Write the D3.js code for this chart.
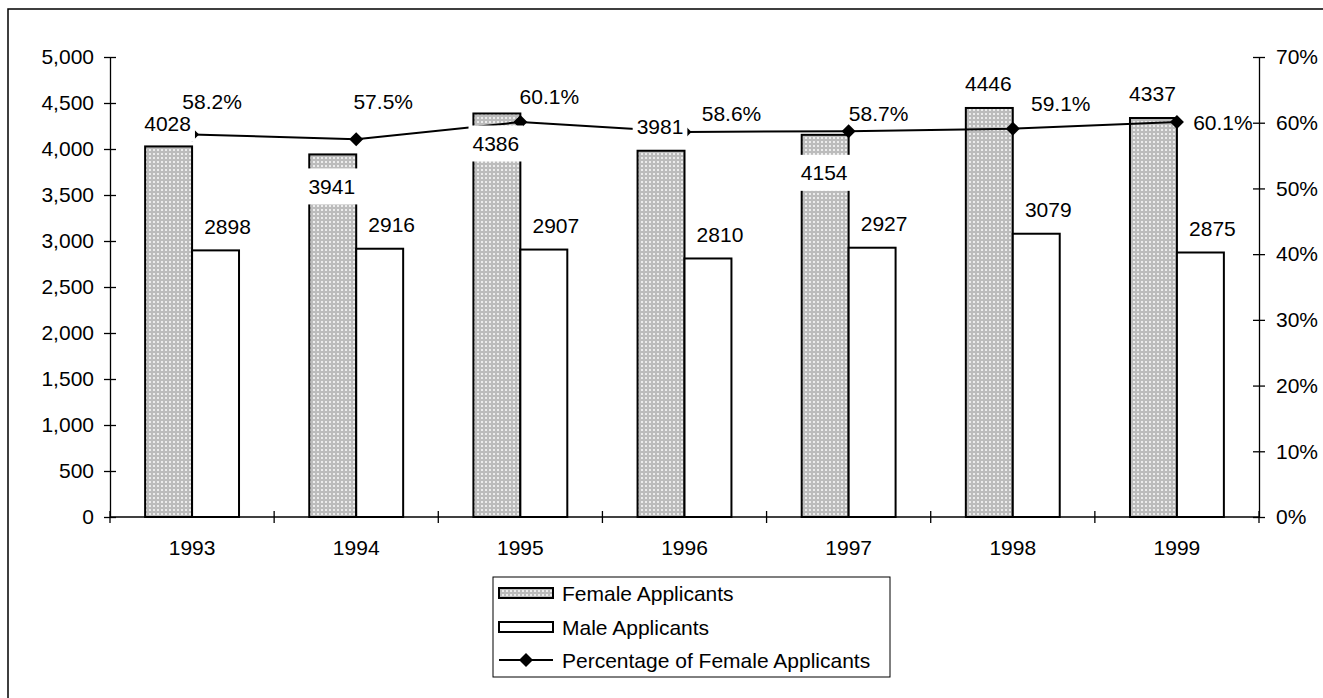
<!DOCTYPE html>
<html>
<head>
<meta charset="utf-8">
<title>Applicants 1993-1999</title>
<script src="https://cdn.jsdelivr.net/npm/d3@7"></script>
<style>
  body { margin: 0; background: #fff; }
  svg text { font-family: "Liberation Sans", Arial, sans-serif; font-size: 21px; fill: #000; }
</style>
</head>
<body>
<div id="chart"></div>
<script>
// data
var years = ["1993", "1994", "1995", "1996", "1997", "1998", "1999"];
var female = [4028, 3941, 4386, 3981, 4154, 4446, 4337];
var male = [2898, 2916, 2907, 2810, 2927, 3079, 2875];
var pctFemale = [0.582, 0.575, 0.601, 0.586, 0.587, 0.591, 0.601];
var leftTicks = [0, 500, 1000, 1500, 2000, 2500, 3000, 3500, 4000, 4500, 5000];
var rightTicks = [0, 0.1, 0.2, 0.3, 0.4, 0.5, 0.6, 0.7];
var legendLabels = ["Female Applicants", "Male Applicants", "Percentage of Female Applicants"];

// hand-placed data label nudges (px), like the dragged labels in the original
var femaleLabelDy = [-23, 32, 30, -24, 38, -25, -25];
var pctLabelDx = [20, 27, 29, 47, 30, 48, 46];
var pctLabelDy = [-33, -38, -26, -18, -18, -25, 0];

var W = 1323, H = 698;
var plot = { left: 110, right: 1259, top: 57, bottom: 517 };

var svg = d3.select("#chart").append("svg")
  .attr("width", W).attr("height", H);

// dotted fill for the female bars
var defs = svg.append("defs");
var pat = defs.append("pattern")
  .attr("id", "dots")
  .attr("patternUnits", "userSpaceOnUse")
  .attr("width", 4).attr("height", 4);
pat.append("rect").attr("width", 4).attr("height", 4).attr("fill", "#bcbcbc");
pat.append("rect").attr("x", 1).attr("y", 1).attr("width", 2).attr("height", 2).attr("fill", "#ececec");

// outer chart border (runs off the right and bottom of the window)
svg.append("rect")
  .attr("x", 8).attr("y", 9)
  .attr("width", W + 20).attr("height", H + 20)
  .attr("fill", "none").attr("stroke", "#000").attr("stroke-width", 1.5);

var x = d3.scaleBand().domain(years).range([plot.left, plot.right]).padding(0);
var y = d3.scaleLinear().domain([0, 5000]).range([plot.bottom, plot.top]);
var yPct = d3.scaleLinear().domain([0, 0.7]).range([plot.bottom, plot.top]);
var barW = x.bandwidth() * 0.286;
var cx = function(i) { return x(years[i]) + x.bandwidth() / 2; };

// bars
var g = svg.append("g");
g.selectAll(".fbar").data(female).enter().append("rect")
  .attr("class", "fbar")
  .attr("x", function(d, i) { return cx(i) - barW; })
  .attr("y", function(d) { return y(d); })
  .attr("width", barW)
  .attr("height", function(d) { return y(0) - y(d); })
  .attr("fill", "url(#dots)")
  .attr("stroke", "#000").attr("stroke-width", 2);

g.selectAll(".mbar").data(male).enter().append("rect")
  .attr("class", "mbar")
  .attr("x", function(d, i) { return cx(i); })
  .attr("y", function(d) { return y(d); })
  .attr("width", barW)
  .attr("height", function(d) { return y(0) - y(d); })
  .attr("fill", "#fff")
  .attr("stroke", "#000").attr("stroke-width", 2);

// axes
var axL = svg.append("g").attr("transform", "translate(" + plot.left + ",0)")
  .call(d3.axisLeft(y).tickValues(leftTicks).tickFormat(d3.format(",")).tickSizeInner(6).tickSizeOuter(0).tickPadding(10));
var axR = svg.append("g").attr("transform", "translate(" + plot.right + ",0)")
  .call(d3.axisRight(yPct).tickValues(rightTicks).tickFormat(d3.format(".0%")).tickSizeInner(6).tickSizeOuter(0).tickPadding(11));
var axB = svg.append("g").attr("transform", "translate(0," + plot.bottom + ")")
  .call(d3.axisBottom(x).tickSize(0).tickPadding(23));
[axL, axR].forEach(function(a) {
  a.selectAll(".tick line").attr("x1", -6).attr("x2", 6);
});
[axL, axR, axB].forEach(function(a) {
  a.selectAll("path, line").attr("stroke", "#000").attr("stroke-width", 1.3);
  a.selectAll("text").style("font-size", "21px").attr("fill", "#000");
});
axB.select(".domain").attr("d", "M" + plot.left + ",0H" + plot.right);
axB.selectAll(".cut").data(years.slice(1).concat(["end"])).enter().append("line")
  .attr("class", "cut")
  .attr("x1", function(d, i) { return i < years.length - 1 ? x(d) : plot.right; })
  .attr("x2", function(d, i) { return i < years.length - 1 ? x(d) : plot.right; })
  .attr("y1", -6).attr("y2", 6)
  .attr("stroke", "#000").attr("stroke-width", 1.3);
axB.append("line").attr("x1", plot.left).attr("x2", plot.left).attr("y1", -6).attr("y2", 6)
  .attr("stroke", "#000").attr("stroke-width", 1.3);

// percentage line
var diamond = function(s) { return "M0," + (-s) + "L" + s + ",0L0," + s + "L" + (-s) + ",0Z"; };
svg.append("path")
  .datum(pctFemale)
  .attr("fill", "none").attr("stroke", "#000").attr("stroke-width", 2)
  .attr("d", d3.line().x(function(d, i) { return cx(i); }).y(function(d) { return yPct(d); }));
svg.selectAll(".mark").data(pctFemale).enter().append("path")
  .attr("class", "mark")
  .attr("transform", function(d, i) { return "translate(" + cx(i) + "," + yPct(d) + ")"; })
  .attr("d", diamond(7))
  .attr("fill", "#000");

// data labels; the bar labels sit on white boxes
var labels = [];
female.forEach(function(v, i) {
  labels.push({ t: String(v), x: cx(i) - barW / 2 - 1, y: y(v) + femaleLabelDy[i], box: true });
});
male.forEach(function(v, i) {
  labels.push({ t: String(v), x: cx(i) + barW / 2 + 12, y: y(v) - 24, box: true });
});
pctFemale.forEach(function(v, i) {
  labels.push({ t: d3.format(".1%")(v), x: cx(i) + pctLabelDx[i], y: yPct(v) + pctLabelDy[i], box: false });
});
var lg = svg.append("g");
labels.forEach(function(l) {
  var box = l.box ? lg.append("rect").attr("fill", "#fff") : null;
  var t = lg.append("text")
    .attr("x", l.x).attr("y", l.y)
    .attr("text-anchor", "middle")
    .attr("dy", "0.36em")
    .text(l.t);
  if (box) {
    var w = t.node().getComputedTextLength();
    box.attr("x", l.x - w / 2 - 4).attr("y", l.y - 18).attr("width", w + 8).attr("height", 36);
    t.raise();
  }
});

// legend
var leg = svg.append("g").attr("transform", "translate(493,577)");
leg.append("rect").attr("width", 397).attr("height", 100)
  .attr("fill", "#fff").attr("stroke", "#000").attr("stroke-width", 1);
var rowY = [16, 50, 83];
leg.append("rect").attr("x", 6).attr("y", rowY[0] - 5).attr("width", 54).attr("height", 10)
  .attr("fill", "url(#dots)").attr("stroke", "#000").attr("stroke-width", 2);
leg.append("rect").attr("x", 6).attr("y", rowY[1] - 5).attr("width", 54).attr("height", 10)
  .attr("fill", "#fff").attr("stroke", "#000").attr("stroke-width", 2);
leg.append("line").attr("x1", 6).attr("x2", 60).attr("y1", rowY[2]).attr("y2", rowY[2])
  .attr("stroke", "#000").attr("stroke-width", 2);
leg.append("path").attr("transform", "translate(33," + rowY[2] + ")").attr("d", diamond(7)).attr("fill", "#000");
leg.selectAll(".lt").data(legendLabels).enter().append("text")
  .attr("class", "lt")
  .attr("x", 69)
  .attr("y", function(d, i) { return rowY[i]; })
  .attr("dy", "0.36em")
  .text(function(d) { return d; });
</script>
</body>
</html>
